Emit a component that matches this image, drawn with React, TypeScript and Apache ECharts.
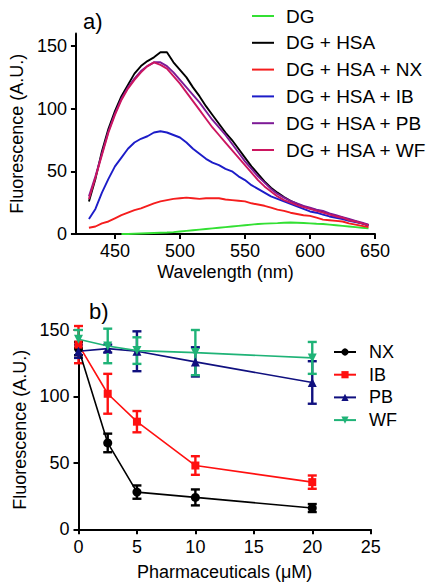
import React, { useEffect, useRef } from "react";
import * as echarts from "echarts";

// ---------- Panel a) : emission spectra ----------
const wavelengths = [430, 435, 440, 445, 450, 455, 460, 465, 470, 475, 480, 485, 490, 495, 500, 505, 510, 515, 520, 525, 530, 535, 540, 545, 550, 555, 560, 565, 570, 575, 580, 585, 590, 595, 600, 605, 610, 615, 620, 625, 630, 635, 640, 645];
const dg = [null, null, null, null, null, 0, 0, 0.2, 0.4, 0.6, 0.8, 1, 1.2, 1.5, 2, 2.5, 3, 3.5, 4, 4.5, 5, 5.5, 6, 6.5, 7, 7.5, 8, 8.3, 8.5, 8.7, 9, 9.2, 9, 8.8, 8.5, 8.2, 8, 7.5, 7, 6.5, 6, 5.5, 5, 4.5];
const dgHsa = [26, 44, 66, 84, 98, 110, 119, 128, 134, 138, 141, 145, 145, 137, 131, 125, 117, 110, 102, 95, 88, 81, 75, 68, 61, 54, 48, 42, 37, 33, 29.5, 26.5, 24, 22, 20.5, 19, 17.5, 16, 14, 13, 11.5, 10, 8.5, 7];
const dgHsaNx = [5, 6, 8.5, 10, 12.5, 15, 17, 19, 20.5, 22.5, 24.5, 26, 27, 28, 28.5, 29, 28.5, 28, 28.5, 28.5, 28.5, 27.5, 27, 26.5, 26, 24.5, 23.5, 22.5, 21, 19.5, 18.5, 17, 16, 15, 14.5, 13, 11.5, 11, 10.5, 10, 8.5, 7.5, 6.5, 5.5];
const dgHsaIb = [12, 20, 33, 44, 54, 61, 68, 73, 76, 78, 81, 82, 81, 79, 77, 73, 68, 64, 60, 57, 55, 52, 50, 46, 43, 39, 36, 33, 30, 28, 26, 24, 22, 20, 18, 17, 15.5, 14, 13, 12, 10.5, 9.5, 8.5, 7];
const dgHsaPb = [30, 46, 64, 82, 96, 108, 117, 124, 130, 134, 137, 137, 134, 129, 123, 117, 111, 105, 98, 91, 85, 79, 72, 65, 58, 52, 46, 41, 36, 32, 29, 26.5, 24.5, 22.5, 21, 19.5, 18.5, 16.5, 15, 13.5, 12, 10.5, 9, 7.5];
const dgHsaWf = [28, 45, 63, 81, 95, 107, 116, 123, 129, 134, 137, 135, 132, 126, 120, 113, 106, 99, 92, 85, 79, 73, 67, 61, 55, 49, 43, 38, 34, 30, 27, 25, 23, 21.5, 20, 18.5, 17, 15.5, 14, 13, 11, 10, 8.5, 7];
const spectraTicksX = [450, 500, 550, 600, 650];
const spectraTicksY = [0, 50, 100, 150];

// ---------- Panel b) : quenching vs concentration ----------
const concentrations = [0, 2.5, 5, 10, 20];
const nx = [136, 65, 28, 24, 16];
const nxErr = [5, 7, 5, 6, 3];
const ib = [139, 102, 81, 48, 35.5];
const ibErr = [14, 15, 8, 7, 5];
const pb = [134, 136, 134, 126, 110.5];
const pbErr = [5, 3, 15, 11, 16];
const wf = [143, 138, 134.5, 133, 129];
const wfErr = [7, 13, 10, 17, 12];

const FONT = '"Liberation Sans", Arial, Helvetica, sans-serif';

function spectrum(name: string, values: (number | null)[], color: string) {
  return {
    name,
    type: "line",
    xAxisIndex: 0,
    yAxisIndex: 0,
    showSymbol: false,
    symbol: "none",
    data: wavelengths.map((w, i) => [w, values[i]]),
    lineStyle: { color, width: 1.9 },
    itemStyle: { color },
    z: 2,
  };
}

function pointSeries(name: string, values: number[], color: string, symbol: string, rotate = 0) {
  return {
    name,
    type: "line",
    xAxisIndex: 1,
    yAxisIndex: 1,
    symbol,
    symbolSize: symbol === "rect" ? 8 : 9,
    symbolRotate: rotate,
    showSymbol: true,
    data: concentrations.map((c, i) => [c, values[i]]),
    lineStyle: { color, width: 1.6 },
    itemStyle: { color },
    z: 4,
  };
}

function errorSeries(name: string, values: number[], errs: number[], color: string) {
  return {
    name: name + " err",
    type: "custom",
    xAxisIndex: 1,
    yAxisIndex: 1,
    data: concentrations.map((c, i) => [c, values[i] - errs[i], values[i] + errs[i]]),
    encode: { x: 0, y: [1, 2] },
    z: 3,
    renderItem: (params: any, api: any) => {
      const x = api.value(0);
      const lo = api.coord([x, api.value(1)]);
      const hi = api.coord([x, api.value(2)]);
      const hw = 4.5;
      const style = { stroke: color, lineWidth: 2.4, fill: null };
      return {
        type: "group",
        children: [
          { type: "line", shape: { x1: hi[0], y1: hi[1], x2: lo[0], y2: lo[1] }, style },
          { type: "line", shape: { x1: hi[0] - hw, y1: hi[1], x2: hi[0] + hw, y2: hi[1] }, style },
          { type: "line", shape: { x1: lo[0] - hw, y1: lo[1], x2: lo[0] + hw, y2: lo[1] }, style },
        ],
      };
    },
  };
}

const axisCommon = {
  axisLine: { show: true, lineStyle: { color: "#000", width: 2 } },
  axisTick: { show: true, length: 5, lineStyle: { color: "#000", width: 2 } },
  splitLine: { show: false },
  nameTextStyle: { color: "#000", fontSize: 18, fontFamily: FONT },
};

const tickLabel = { fontSize: 18, color: "#000", fontFamily: FONT };

export default function App() {
  const ref = useRef<HTMLDivElement>(null);
  useEffect(() => {
    if (!ref.current) return;
    const chart = echarts.init(ref.current, null, { renderer: "svg" });
    const option: any = {
      animation: false,
      backgroundColor: "#fff",
      textStyle: { fontFamily: FONT, color: "#000" },
      title: [
        { text: "a)", left: 83, top: 10, padding: 0, textStyle: { fontSize: 22, fontWeight: "normal", color: "#000", fontFamily: FONT } },
        { text: "b)", left: 89, top: 300, padding: 0, textStyle: { fontSize: 22, fontWeight: "normal", color: "#000", fontFamily: FONT } },
      ],
      grid: [
        { left: 75, right: 53, top: 33.5, bottom: 352, containLabel: false },
        { left: 78.5, right: 57.3, top: 330, bottom: 56.7, containLabel: false },
      ],
      legend: [
        {
          orient: "vertical",
          left: 252,
          top: 6.5,
          icon: "rect",
          itemWidth: 22,
          itemHeight: 2,
          itemGap: 7.8,
          padding: 0,
          textStyle: { fontSize: 19, lineHeight: 19, color: "#000", fontFamily: FONT, padding: [0, 0, 0, 7] },
          data: ["DG", "DG + HSA", "DG + HSA + NX", "DG + HSA + IB", "DG + HSA + PB", "DG + HSA + WF"],
        },
        {
          orient: "vertical",
          left: 333,
          top: 343,
          itemWidth: 22,
          itemHeight: 9,
          itemGap: 4.7,
          padding: 0,
          textStyle: { fontSize: 18, lineHeight: 18, color: "#000", fontFamily: FONT, padding: [0, 0, 0, 8] },
          data: ["NX", "IB", "PB", "WF"],
        },
      ],
      xAxis: [
        {
          ...axisCommon,
          gridIndex: 0,
          type: "value",
          min: 420,
          max: 650,
          axisTick: { ...axisCommon.axisTick, customValues: spectraTicksX },
          axisLabel: { ...tickLabel, customValues: spectraTicksX, margin: 8 },
          name: "Wavelength (nm)",
          nameLocation: "middle",
          nameGap: 29,
        },
        {
          ...axisCommon,
          gridIndex: 1,
          type: "value",
          min: 0,
          max: 25,
          interval: 5,
          axisLabel: { ...tickLabel, margin: 9 },
          name: "Pharmaceuticals (\u03BCM)",
          nameLocation: "middle",
          nameGap: 34,
        },
      ],
      yAxis: [
        {
          ...axisCommon,
          gridIndex: 0,
          type: "value",
          min: 0,
          max: 160,
          axisTick: { ...axisCommon.axisTick, customValues: spectraTicksY },
          axisLabel: { ...tickLabel, customValues: spectraTicksY, margin: 9 },
          name: "Fluorescence (A.U.)",
          nameLocation: "middle",
          nameGap: 48,
        },
        {
          ...axisCommon,
          gridIndex: 1,
          type: "value",
          min: 0,
          max: 150,
          interval: 50,
          axisLabel: { ...tickLabel, margin: 9 },
          name: "Fluorescence (A.U.)",
          nameLocation: "middle",
          nameGap: 47,
        },
      ],
      series: [
        spectrum("DG", dg, "#33e033"),
        spectrum("DG + HSA", dgHsa, "#000000"),
        spectrum("DG + HSA + NX", dgHsaNx, "#f51d1d"),
        spectrum("DG + HSA + IB", dgHsaIb, "#1c1cc8"),
        spectrum("DG + HSA + PB", dgHsaPb, "#7d1a96"),
        spectrum("DG + HSA + WF", dgHsaWf, "#cc1660"),
        errorSeries("NX", nx, nxErr, "#000000"),
        errorSeries("IB", ib, ibErr, "#ff1010"),
        errorSeries("PB", pb, pbErr, "#10107f"),
        errorSeries("WF", wf, wfErr, "#1fb377"),
        pointSeries("NX", nx, "#000000", "circle"),
        pointSeries("IB", ib, "#ff1010", "rect"),
        pointSeries("PB", pb, "#10107f", "triangle"),
        pointSeries("WF", wf, "#1fb377", "triangle", 180),
      ],
    };
    chart.setOption(option);
    return () => chart.dispose();
  }, []);
  return (
    <div
      ref={ref}
      style={{ position: "fixed", left: 0, top: 0, width: 428, height: 586, background: "#fff" }}
    />
  );
}
